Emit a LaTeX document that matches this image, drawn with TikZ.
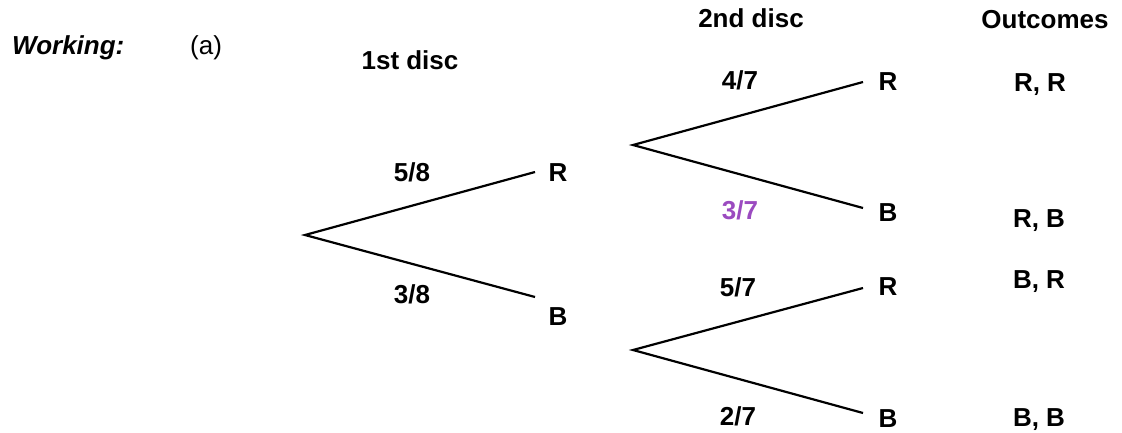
\documentclass[tikz,border=0pt]{standalone}
\usepackage{fontspec}
\setmainfont{Liberation Sans}
\definecolor{probpurple}{RGB}{155,75,192}
\begin{document}
\begin{tikzpicture}[x=1pt,y=-1pt,
  lbl/.style={anchor=base,inner sep=0pt,font=\fontsize{26}{30}\selectfont\bfseries},
  branch/.style={line width=2.2pt,black},
  every node/.style={text=black}]
\useasboundingbox (0,0) rectangle (1122,432);
% headings
\node[lbl,anchor=base west,font=\fontsize{26}{30}\selectfont\bfseries\itshape] (work) at (12,54) {Working:};
\node[anchor=base west,inner sep=0pt,font=\fontsize{26}{30}\selectfont] (parta) at (190,54) {(a)};
\node[lbl] (h1) at (410,69) {1st disc};
\node[lbl] (h2) at (751,27) {2nd disc};
\node[lbl] (h3) at (1045,28) {Outcomes};
% coordinates of branches
\coordinate (r0) at (305,235);
\coordinate (e1R) at (535,172);
\coordinate (e1B) at (535,297);
\coordinate (r1) at (633,145);
\coordinate (e2RR) at (863,82);
\coordinate (e2RB) at (863,208);
\coordinate (r2) at (633,350);
\coordinate (e2BR) at (863,288);
\coordinate (e2BB) at (863,413);
\draw[branch] (e1R) -- (r0) -- (e1B);
\draw[branch] (e2RR) -- (r1) -- (e2RB);
\draw[branch] (e2BR) -- (r2) -- (e2BB);
% first disc
\node[lbl] (p58) at (412,181) {5/8};
\node[lbl] (n1R) at (558,181) {R};
\node[lbl] (p38) at (412,303) {3/8};
\node[lbl] (n1B) at (558,325) {B};
% second disc
\node[lbl] (p47) at (740,89) {4/7};
\node[lbl] (nRR) at (888,90) {R};
\node[lbl,text=probpurple] (p37) at (740,219) {3/7};
\node[lbl] (nRB) at (888,221) {B};
\node[lbl] (p57) at (738,296) {5/7};
\node[lbl] (nBR) at (888,295) {R};
\node[lbl] (p27) at (738,425) {2/7};
\node[lbl] (nBB) at (888,427) {B};
% outcomes
\node[lbl] (oRR) at (1040,91) {R, R};
\node[lbl] (oRB) at (1039,227) {R, B};
\node[lbl] (oBR) at (1039,288) {B, R};
\node[lbl] (oBB) at (1039,426) {B, B};
\end{tikzpicture}
\end{document}
